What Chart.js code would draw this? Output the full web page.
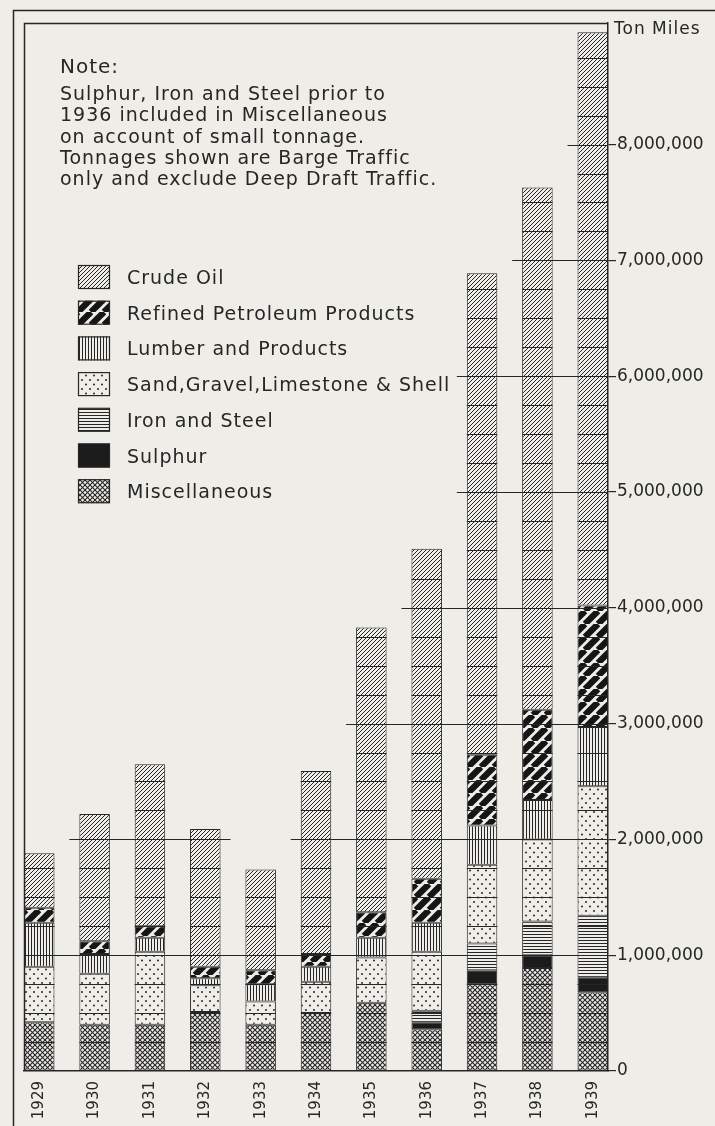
<!DOCTYPE html>
<html>
<head>
<meta charset="utf-8">
<script src="https://cdn.jsdelivr.net/npm/chart.js@4.4.1/dist/chart.umd.min.js"></script>
<style>
  html, body { margin: 0; padding: 0; background: #eeede7; }
  #wrap { width: 715px; height: 1126px; }
</style>
</head>
<body>
<div id="wrap"><canvas id="chart" width="715" height="1126"></canvas></div>
<script>
// barge traffic, ton miles
const years = ['1929', '1930', '1931', '1932', '1933', '1934', '1935', '1936', '1937', '1938', '1939'];
const yTicks = [0, 1000000, 2000000, 3000000, 4000000, 5000000, 6000000, 7000000, 8000000];

const misc     = [420000, 400000, 400000, 510000, 400000, 500000, 590000, 360000, 750000, 890000, 680000];
const sulphur  = [null, null, null, null, null, null, null, 60000, 120000, 110000, 130000];
const ironSteel = [null, null, null, null, null, null, null, 100000, 230000, 290000, 530000];
const sand     = [480000, 440000, 630000, 230000, 200000, 270000, 390000, 510000, 680000, 710000, 1120000];
const lumber   = [380000, 170000, 120000, 60000, 150000, 130000, 170000, 250000, 340000, 340000, 510000];
const refined  = [130000, 110000, 100000, 100000, 120000, 110000, 220000, 380000, 610000, 780000, 1050000];
const crude    = [470000, 1100000, 1400000, 1190000, 870000, 1580000, 2460000, 2850000, 4160000, 4510000, 4950000];

const noteLines = [
  'Sulphur, Iron and Steel prior to',
  '1936 included in Miscellaneous',
  'on account of small tonnage.',
  'Tonnages shown are Barge Traffic',
  'only and exclude Deep Draft Traffic.'
];

const PAPER = '#eeede7';
const INK = '#262626';
const FONT = '"DejaVu Sans", sans-serif';

function makePattern(kind) {
  if (kind === 'solid') return '#1b1b1b';
  const size = { diag: 4, bands: 13, cross: 5, vlines: 3, hlines: 3, dots: 8 }[kind];
  const c = document.createElement('canvas');
  c.width = size;
  c.height = kind === 'dots' ? 9 : size;
  const g = c.getContext('2d');
  g.fillStyle = PAPER;
  g.fillRect(0, 0, c.width, c.height);
  g.strokeStyle = INK;
  g.fillStyle = INK;
  const slash = (lw, back) => {
    g.lineWidth = lw;
    for (let k = -1; k <= 1; k++) {
      const o = k * size;
      g.beginPath();
      if (back) { g.moveTo(o, 0); g.lineTo(o + size, size); }
      else { g.moveTo(o, size); g.lineTo(o + size, 0); }
      g.stroke();
    }
  };
  if (kind === 'diag') slash(1, false);
  if (kind === 'bands') { g.strokeStyle = '#151515'; slash(6.3, false); }
  if (kind === 'cross') { slash(1.1, false); slash(1.1, true); }
  if (kind === 'vlines') { g.fillRect(1, 0, 1, size); }
  if (kind === 'hlines') { g.fillRect(0, 1, size, 1); }
  if (kind === 'dots') {
    g.beginPath(); g.arc(2, 2, 1, 0, Math.PI * 2); g.fill();
    g.beginPath(); g.arc(6, 6.5, 1, 0, Math.PI * 2); g.fill();
  }
  return g.createPattern(c, 'repeat');
}

// bottom of the stack first
const series = [
  { label: 'Miscellaneous', data: misc, kind: 'cross' },
  { label: 'Sulphur', data: sulphur, kind: 'solid' },
  { label: 'Iron and Steel', data: ironSteel, kind: 'hlines' },
  { label: 'Sand,Gravel,Limestone & Shell', data: sand, kind: 'dots' },
  { label: 'Lumber and Products', data: lumber, kind: 'vlines' },
  { label: 'Refined Petroleum Products', data: refined, kind: 'bands' },
  { label: 'Crude Oil', data: crude, kind: 'diag' }
];
series.forEach(s => { s.fill = makePattern(s.kind); });

const total = i => series.reduce((sum, s) => sum + (s.data[i] || 0), 0);

const paper = {
  id: 'paper',
  beforeDraw(chart) {
    const { ctx, width, height } = chart;
    ctx.save();
    ctx.fillStyle = PAPER;
    ctx.fillRect(0, 0, width, height);
    ctx.restore();
  }
};

// horizontal rulings only run across the bars that reach them
const rulings = {
  id: 'rulings',
  beforeDatasetsDraw(chart) {
    const { ctx, chartArea, scales: { y } } = chart;
    const bars = chart.getDatasetMeta(0).data;
    ctx.save();
    ctx.strokeStyle = INK;
    ctx.lineWidth = 1.2;
    yTicks.forEach(v => {
      if (v === 0) return;
      const py = Math.round(y.getPixelForValue(v)) + 0.5;
      let i = 0;
      while (i < years.length) {
        if (total(i) <= v) { i++; continue; }
        let j = i;
        while (j + 1 < years.length && total(j + 1) > v) j++;
        const x0 = Math.max(chartArea.left, bars[i].x - bars[i].width / 2 - 10);
        const x1 = Math.min(chartArea.right, bars[j].x + bars[j].width / 2 + 10);
        ctx.beginPath();
        ctx.moveTo(x0, py);
        ctx.lineTo(x1, py);
        ctx.stroke();
        i = j + 1;
      }
    });
    ctx.restore();
  }
};

const decorations = {
  id: 'decorations',
  afterDatasetsDraw(chart) {
    const { ctx, chartArea, scales: { y } } = chart;
    const bars = chart.getDatasetMeta(0).data;

    // quarter-million divisions inside every bar
    ctx.save();
    ctx.strokeStyle = INK;
    ctx.lineWidth = 1;
    bars.forEach((b, i) => {
      const top = total(i);
      for (let v = 250000; v < top - 20000; v += 250000) {
        const py = Math.round(y.getPixelForValue(v)) + 0.5;
        ctx.beginPath();
        ctx.moveTo(b.x - b.width / 2, py);
        ctx.lineTo(b.x + b.width / 2, py);
        ctx.stroke();
      }
    });

    // frame
    ctx.lineWidth = 1.5;
    ctx.beginPath();
    ctx.moveTo(13.5, 1126);
    ctx.lineTo(13.5, 10.5);
    ctx.lineTo(715, 10.5);
    ctx.moveTo(chartArea.left + 0.5, chartArea.bottom);
    ctx.lineTo(chartArea.left + 0.5, chartArea.top + 0.5);
    ctx.lineTo(chartArea.right, chartArea.top + 0.5);
    ctx.stroke();

    // note
    ctx.fillStyle = INK;
    ctx.textBaseline = 'alphabetic';
    ctx.textAlign = 'left';
    ctx.letterSpacing = '1px';
    ctx.font = '20px ' + FONT;
    ctx.fillText('Note:', 60, 73);
    ctx.font = '19px ' + FONT;
    noteLines.forEach((t, k) => ctx.fillText(t, 60, 100 + k * 21.3));

    // legend, top item first
    const items = series.slice().reverse();
    items.forEach((s, k) => {
      const cy = 277 + k * 35.7;
      ctx.fillStyle = s.fill;
      ctx.fillRect(78, cy - 12, 32, 24);
      ctx.strokeStyle = INK;
      ctx.lineWidth = 1.2;
      ctx.strokeRect(78.5, cy - 11.5, 31, 23);
      ctx.fillStyle = INK;
      ctx.font = '19px ' + FONT;
      ctx.fillText(s.label, 127, cy + 7);
    });

    // unit label
    ctx.font = '17px ' + FONT;
    ctx.fillText('Ton Miles', 614, 34);
    ctx.restore();
  }
};

new Chart(document.getElementById('chart'), {
  type: 'bar',
  data: {
    datasets: series.map(s => ({
      label: s.label,
      data: s.data.map((v, i) => ({ x: i, y: v })),
      backgroundColor: s.fill,
      borderColor: INK,
      borderWidth: 1,
      borderSkipped: false,
      barPercentage: 0.551,
      categoryPercentage: 1
    }))
  },
  options: {
    responsive: false,
    animation: false,
    events: [],
    layout: { padding: { left: 24, top: 23, right: 0, bottom: 0 } },
    plugins: { legend: { display: false }, tooltip: { enabled: false } },
    scales: {
      x: {
        type: 'linear',
        stacked: true,
        offset: false,
        bounds: 'data',
        min: -0.2755,
        max: years.length - 1 + 0.2755,
        afterBuildTicks: scale => { scale.ticks = years.map((_, i) => ({ value: i })); },
        afterFit: scale => { scale.height = 55; },
        grid: { display: false, drawTicks: false, offset: false },
        border: { display: true, color: INK, width: 1.5 },
        ticks: {
          minRotation: 90,
          maxRotation: 90,
          padding: 10,
          color: INK,
          font: { family: FONT, size: 15 },
          callback: v => years[v]
        }
      },
      y: {
        position: 'right',
        stacked: true,
        bounds: 'data',
        min: 0,
        max: 9050000,
        afterBuildTicks: scale => { scale.ticks = yTicks.map(v => ({ value: v })); },
        afterFit: scale => { scale.width = 107; },
        grid: { drawOnChartArea: false, drawTicks: true, tickLength: 8, color: INK, lineWidth: 1.2 },
        border: { display: true, color: INK, width: 1.5 },
        ticks: {
          padding: 1,
          color: INK,
          font: { family: FONT, size: 17 },
          callback: v => v.toLocaleString('en-US')
        }
      }
    }
  },
  plugins: [paper, rulings, decorations]
});
</script>
</body>
</html>
